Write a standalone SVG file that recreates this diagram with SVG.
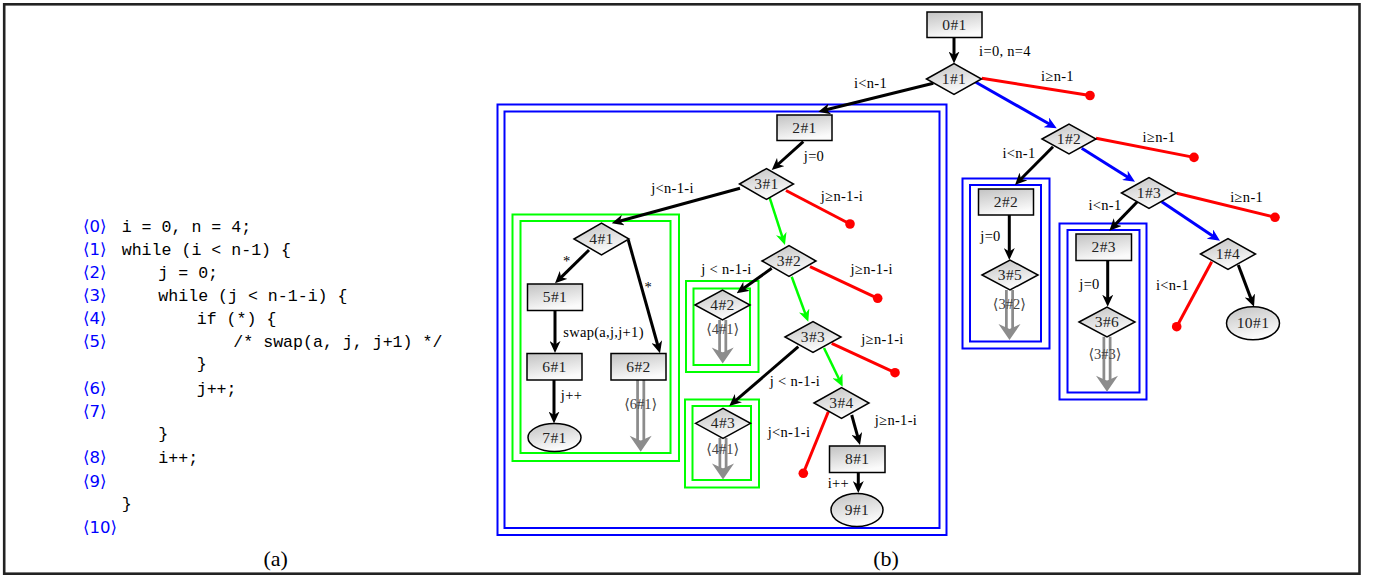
<svg xmlns="http://www.w3.org/2000/svg" width="1374" height="579" viewBox="0 0 1374 579">
  <defs>
    <linearGradient id="shade" x1="0" y1="0" x2="0.35" y2="1">
      <stop offset="0" stop-color="#c2c2c2"/>
      <stop offset="1" stop-color="#fbfbfb"/>
    </linearGradient>
    <marker id="ahK" viewBox="0 0 12 11" refX="6" refY="5.5" markerWidth="12" markerHeight="11" markerUnits="userSpaceOnUse" orient="auto">
      <path d="M0,0 L12,5.5 L0,11 L3.5,5.5 Z" fill="#000"/>
    </marker>
    <marker id="ahB" viewBox="0 0 12 11" refX="6" refY="5.5" markerWidth="12" markerHeight="11" markerUnits="userSpaceOnUse" orient="auto">
      <path d="M0,0 L12,5.5 L0,11 L3.5,5.5 Z" fill="#0000ff"/>
    </marker>
    <marker id="ahG" viewBox="0 0 12 11" refX="6" refY="5.5" markerWidth="12" markerHeight="11" markerUnits="userSpaceOnUse" orient="auto">
      <path d="M0,0 L12,5.5 L0,11 L3.5,5.5 Z" fill="#00ff00"/>
    </marker>
    <style>
      .code { font-family: "Liberation Mono", monospace; font-size: 16.6px; fill: #000; }
      .lbl { font-family: "DejaVu Sans", "Liberation Sans", sans-serif; font-size: 16.5px; fill: #0000ff; }
      .cap { font-family: "Liberation Serif", serif; font-size: 22px; text-anchor: middle; fill: #000; }
      .nt { font-family: "Liberation Serif", "DejaVu Serif", serif; font-size: 15.5px; text-anchor: middle; fill: #222; letter-spacing: 0.4px; }
      .el { font-family: "Liberation Serif", "DejaVu Serif", serif; font-size: 14.5px; text-anchor: middle; fill: #000; letter-spacing: 0.3px; }
      .gl { font-family: "Liberation Serif", "DejaVu Serif", serif; font-size: 14.5px; text-anchor: middle; fill: #444; }
      .node { fill: url(#shade); stroke: #000; stroke-width: 1.5; }
      .k { fill: none; stroke: #000; stroke-width: 3; marker-end: url(#ahK); }
      .b { fill: none; stroke: #0000ff; stroke-width: 3; marker-end: url(#ahB); }
      .g { fill: none; stroke: #00ff00; stroke-width: 2.5; marker-end: url(#ahG); }
      .r { fill: none; stroke: #ff0000; stroke-width: 3; }
      .dot { fill: #ff0000; }
      .bb { fill: none; stroke: #0000ff; stroke-width: 2; }
      .gb { fill: none; stroke: #00ff00; stroke-width: 2; }
      .go { fill: none; stroke: #8c8c8c; stroke-width: 9; }
      .gi { fill: none; stroke: #fff; stroke-width: 3.5; }
      .gh { fill: #8c8c8c; }
    </style>
  </defs>

  <rect width="1374" height="579" fill="#fff"/>
  <rect x="4.2" y="4.3" width="1355.3" height="569.4" fill="none" stroke="#222" stroke-width="2.6"/>

  <!-- (a) program listing -->
  <g id="listing">
    <text class="lbl" x="83" y="232">⟨0⟩</text>
    <text class="code" x="121.7" y="232">i = 0, n = 4;</text>
    <text class="lbl" x="83" y="255">⟨1⟩</text>
    <text class="code" x="121.7" y="255">while (i &lt; n-1) {</text>
    <text class="lbl" x="83" y="278">⟨2⟩</text>
    <text class="code" x="158.3" y="278">j = 0;</text>
    <text class="lbl" x="83" y="301">⟨3⟩</text>
    <text class="code" x="158.3" y="301">while (j &lt; n-1-i) {</text>
    <text class="lbl" x="83" y="324">⟨4⟩</text>
    <text class="code" x="196.7" y="324">if (*) {</text>
    <text class="lbl" x="83" y="347">⟨5⟩</text>
    <text class="code" x="233.3" y="347">/* swap(a, j, j+1) */</text>
    <text class="code" x="196.7" y="369">}</text>
    <text class="lbl" x="83" y="394">⟨6⟩</text>
    <text class="code" x="196.7" y="394">j++;</text>
    <text class="lbl" x="83" y="417">⟨7⟩</text>
    <text class="code" x="158.3" y="439">}</text>
    <text class="lbl" x="83" y="463">⟨8⟩</text>
    <text class="code" x="158.3" y="463">i++;</text>
    <text class="lbl" x="83" y="487">⟨9⟩</text>
    <text class="code" x="121.7" y="509">}</text>
    <text class="lbl" x="83" y="533">⟨10⟩</text>
    <text class="cap" x="275.7" y="565.5">(a)</text>
  </g>

  <!-- loop-unwinding clusters -->
  <g id="clusters">
    <rect class="bb" x="497.5" y="104.5" width="449" height="430.5"/>
    <rect class="bb" x="504.5" y="111.5" width="435" height="416.5"/>
    <rect class="gb" x="512.5" y="214.5" width="166.5" height="246.5"/>
    <rect class="gb" x="520.5" y="221" width="150" height="232"/>
    <rect class="gb" x="686" y="281" width="72.5" height="91"/>
    <rect class="gb" x="693.5" y="288.5" width="56.5" height="76.5"/>
    <rect class="gb" x="685" y="399.5" width="74" height="88"/>
    <rect class="gb" x="692.5" y="406" width="58.5" height="74"/>
    <rect class="bb" x="962.5" y="178.5" width="87" height="170"/>
    <rect class="bb" x="970" y="185" width="71" height="156.5"/>
    <rect class="bb" x="1059.5" y="223.5" width="87" height="176"/>
    <rect class="bb" x="1067.5" y="230" width="72" height="162.5"/>
  </g>

  <!-- edges -->
  <g id="connectors">
    <!-- black transitions -->
    <path class="k" d="M954,37.5 L954,57.5"/>
    <path class="k" d="M933.3,83.3 L824.1,110.3"/>
    <path class="k" d="M803.3,141.7 L776.2,166"/>
    <path class="k" d="M740,188.3 L617.5,221.7"/>
    <path class="k" d="M589,250 L559.3,279.1"/>
    <path class="k" d="M628.3,240 L658.4,347.5"/>
    <path class="k" d="M555,311 L555,347"/>
    <path class="k" d="M554,380 L554,417.5"/>
    <path class="k" d="M771.7,268.3 L741.6,289.8"/>
    <path class="k" d="M798.3,346.7 L733.8,402.1"/>
    <path class="k" d="M851.7,415 L858.4,439.2"/>
    <path class="k" d="M858.3,472.5 L858.3,487"/>
    <path class="k" d="M1053,146.7 L1019.2,180.7"/>
    <path class="k" d="M1009.3,215 L1009.3,254"/>
    <path class="k" d="M1137.3,201.7 L1113.5,226.4"/>
    <path class="k" d="M1107.7,261 L1107.7,300.7"/>
    <path class="k" d="M1238.3,265 L1251.9,301.1"/>

    <!-- outer loop back-edges (blue) -->
    <path class="b" d="M975,81.7 L1051.5,125.3"/>
    <path class="b" d="M1081.7,148.3 L1129.9,178.5"/>
    <path class="b" d="M1161.7,201.7 L1215,237.4"/>

    <!-- inner loop back-edges (green) -->
    <path class="g" d="M769.3,196.7 L783.1,239.3"/>
    <path class="g" d="M791.7,276.7 L806.2,316.1"/>
    <path class="g" d="M824,348 L840.1,381.3"/>

    <!-- infeasible exits -->
    <path class="r" d="M981.7,78.3 L1090,95.5"/>
    <circle class="dot" cx="1090" cy="95.5" r="4.8"/>
    <path class="r" d="M786,190.5 L850,224"/>
    <circle class="dot" cx="850" cy="224" r="4.8"/>
    <path class="r" d="M810,266.7 L877.7,298.3"/>
    <circle class="dot" cx="877.7" cy="298.3" r="4.8"/>
    <path class="r" d="M831.7,343.3 L895,372.7"/>
    <circle class="dot" cx="895" cy="372.7" r="4.8"/>
    <path class="r" d="M828.3,411.7 L803.3,473.3"/>
    <circle class="dot" cx="803.3" cy="473.3" r="4.8"/>
    <path class="r" d="M1096,138.3 L1194,157.4"/>
    <circle class="dot" cx="1194" cy="157.4" r="4.8"/>
    <path class="r" d="M1176.7,193.3 L1275,217.3"/>
    <circle class="dot" cx="1275" cy="217.3" r="4.8"/>
    <path class="r" d="M1211.7,261.7 L1176.7,326.7"/>
    <circle class="dot" cx="1176.7" cy="326.7" r="4.8"/>

    <!-- covering (subsumption) edges -->
    <path class="go" d="M640.7,380 V441.7"/>
    <path class="gi" d="M640.7,380 V440.7"/>
    <polygon class="gh" points="640.7,451.7 629.7,435.7 640.7,440.7 651.7,435.7"/>
    <path class="go" d="M722.7,320 V353.5"/>
    <path class="gi" d="M722.7,320 V352.5"/>
    <polygon class="gh" points="722.7,363.5 711.7,347.5 722.7,352.5 733.7,347.5"/>
    <path class="go" d="M723,438 V469.5"/>
    <path class="gi" d="M723,438 V468.5"/>
    <polygon class="gh" points="723,479.5 712,463.5 723,468.5 734,463.5"/>
    <path class="go" d="M1009.5,290 V330"/>
    <path class="gi" d="M1009.5,290 V329"/>
    <polygon class="gh" points="1009.5,340 998.5,324 1009.5,329 1020.5,324"/>
    <path class="go" d="M1107,336.7 V381.7"/>
    <path class="gi" d="M1107,336.7 V380.7"/>
    <polygon class="gh" points="1107,391.7 1096,375.7 1107,380.7 1118,375.7"/>

    <!-- edge labels -->
    <text class="el" x="1005" y="56">i=0, n=4</text>
    <text class="el" x="1057.5" y="81">i≥n-1</text>
    <text class="el" x="870.5" y="88">i&lt;n-1</text>
    <text class="el" x="814" y="161">j=0</text>
    <text class="el" x="842" y="201">j≥n-1-i</text>
    <text class="el" x="672.5" y="193">j&lt;n-1-i</text>
    <text class="el" x="566.7" y="266">*</text>
    <text class="el" x="648.3" y="292">*</text>
    <text class="el" x="603.5" y="337">swap(a,j,j+1)</text>
    <text class="el" x="571.5" y="400">j++</text>
    <text class="el" x="726.5" y="274">j &lt; n-1-i</text>
    <text class="el" x="871.7" y="274">j≥n-1-i</text>
    <text class="el" x="882.5" y="344">j≥n-1-i</text>
    <text class="el" x="795" y="386">j &lt; n-1-i</text>
    <text class="el" x="789" y="437">j&lt;n-1-i</text>
    <text class="el" x="896" y="425">j≥n-1-i</text>
    <text class="el" x="838.3" y="488">i++</text>
    <text class="el" x="1159" y="142">i≥n-1</text>
    <text class="el" x="1019" y="158">i&lt;n-1</text>
    <text class="el" x="990.5" y="241">j=0</text>
    <text class="el" x="1246.7" y="202">i≥n-1</text>
    <text class="el" x="1105" y="210">i&lt;n-1</text>
    <text class="el" x="1089.5" y="289">j=0</text>
    <text class="el" x="1172.5" y="290">i&lt;n-1</text>
    <text class="gl" x="640.7" y="409">⟨6#1⟩</text>
    <text class="gl" x="722.7" y="334">⟨4#1⟩</text>
    <text class="gl" x="722.7" y="454">⟨4#1⟩</text>
    <text class="gl" x="1009.3" y="309">⟨3#2⟩</text>
    <text class="gl" x="1105" y="359">⟨3#3⟩</text>
  </g>

  <!-- nodes -->
  <g id="n0_1"><rect class="node" x="927" y="12" width="55" height="25.5"/><text class="nt" x="954.5" y="29.5">0#1</text></g>
  <g id="n1_1"><polygon class="node" points="926.5,79 954,63.5 981.5,79 954,94.5"/><text class="nt" x="954" y="84">1#1</text></g>
  <g id="n2_1"><rect class="node" x="777" y="115" width="55" height="25.5"/><text class="nt" x="804.5" y="132.5">2#1</text></g>
  <g id="n3_1"><polygon class="node" points="739.5,184 766.5,168.5 793.5,184 766.5,199.5"/><text class="nt" x="766.5" y="189">3#1</text></g>
  <g id="n4_1"><polygon class="node" points="574,239 601.5,223 629,239 601.5,255"/><text class="nt" x="601.5" y="244">4#1</text></g>
  <g id="n5_1"><rect class="node" x="527.5" y="284" width="55" height="26.5"/><text class="nt" x="555" y="302">5#1</text></g>
  <g id="n6_1"><rect class="node" x="527" y="353.5" width="55" height="26.5"/><text class="nt" x="554.5" y="371.5">6#1</text></g>
  <g id="n7_1"><ellipse class="node" cx="554.5" cy="437.5" rx="26.5" ry="14"/><text class="nt" x="554.5" y="442.5">7#1</text></g>
  <g id="n6_2"><rect class="node" x="611" y="353.5" width="55" height="26.5"/><text class="nt" x="638.5" y="371.5">6#2</text></g>
  <g id="n3_2"><polygon class="node" points="762,261 789,245.5 816,261 789,276.5"/><text class="nt" x="789" y="266">3#2</text></g>
  <g id="n4_2"><polygon class="node" points="695,305 722.5,290 750,305 722.5,320"/><text class="nt" x="722.5" y="310">4#2</text></g>
  <g id="n3_3"><polygon class="node" points="785,337 813,321.5 841,337 813,352.5"/><text class="nt" x="813" y="342">3#3</text></g>
  <g id="n4_3"><polygon class="node" points="695.5,423.3 723,408.3 750.5,423.3 723,438.3"/><text class="nt" x="723" y="428.3">4#3</text></g>
  <g id="n3_4"><polygon class="node" points="814,403 841.5,387.5 869,403 841.5,418.5"/><text class="nt" x="841.5" y="408">3#4</text></g>
  <g id="n8_1"><rect class="node" x="829.5" y="446" width="55.5" height="26.5"/><text class="nt" x="857.3" y="464">8#1</text></g>
  <g id="n9_1"><ellipse class="node" cx="857" cy="510" rx="26" ry="16.5"/><text class="nt" x="857" y="515">9#1</text></g>
  <g id="n1_2"><polygon class="node" points="1042,139 1069,124 1096,139 1069,154"/><text class="nt" x="1069" y="144">1#2</text></g>
  <g id="n2_2"><rect class="node" x="978.5" y="189" width="55" height="26"/><text class="nt" x="1006" y="206.5">2#2</text></g>
  <g id="n3_5"><polygon class="node" points="982,275 1010,260 1038,275 1010,290"/><text class="nt" x="1010" y="280">3#5</text></g>
  <g id="n1_3"><polygon class="node" points="1121.5,193 1149,177.5 1176.5,193 1149,208.5"/><text class="nt" x="1149" y="198">1#3</text></g>
  <g id="n2_3"><rect class="node" x="1076" y="234" width="55.5" height="26.5"/><text class="nt" x="1103.8" y="252">2#3</text></g>
  <g id="n3_6"><polygon class="node" points="1079,322 1107,307 1135,322 1107,337"/><text class="nt" x="1107" y="327">3#6</text></g>
  <g id="n1_4"><polygon class="node" points="1200.5,254 1228,238.5 1255.5,254 1228,269.5"/><text class="nt" x="1228" y="259">1#4</text></g>
  <g id="n10_1"><ellipse class="node" cx="1253" cy="323.3" rx="26.5" ry="16.5"/><text class="nt" x="1253" y="328.3">10#1</text></g>

  <text class="cap" x="886" y="565.5">(b)</text>
</svg>
